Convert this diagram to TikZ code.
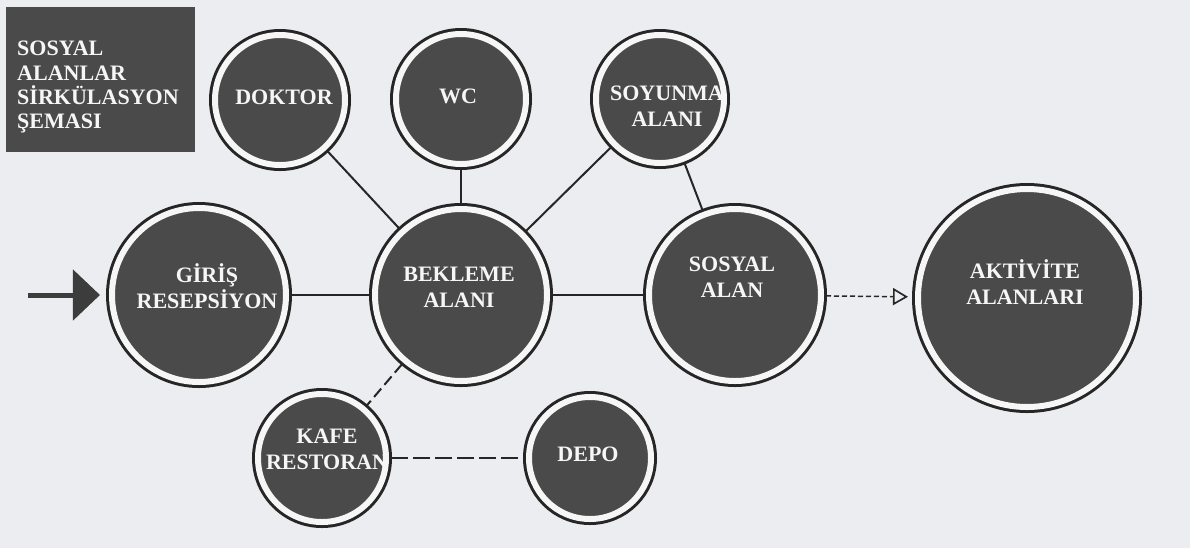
\documentclass[tikz,border=0pt]{standalone}
\usepackage{fontspec}
\setmainfont{Liberation Serif}
\usetikzlibrary{arrows.meta}
\definecolor{kagit}{HTML}{ECEDF0}
\definecolor{koyu}{HTML}{4A4A4A}
\definecolor{halka}{HTML}{262626}
\definecolor{bosluk}{HTML}{F6F6F6}
\begin{document}
\begin{tikzpicture}[x=0.03cm, y=-0.03cm,
  oda/.style={circle, fill=koyu, draw=bosluk, line width=0.18cm, outer sep=0.15cm,
    preaction={draw=halka, line width=0.36cm}},
  yazi/.style={text=bosluk, font=\bfseries\fontsize{18.8}{22.2}\selectfont, align=center, inner sep=0pt},
  bag/.style={draw=halka, line width=0.06cm},
  kesik/.style={bag, dash pattern=on 0.33cm off 0.15cm}
]
\useasboundingbox (0,0) rectangle (1190,548);
\fill[kagit] (0,0) rectangle (1190,548);

% baslik
\fill[koyu] (6,7) rectangle (195,152);
\node[yazi, align=left, anchor=north west, font=\bfseries\fontsize{18.8}{20.7}\selectfont] (baslik) at (17,41) {SOSYAL\\ALANLAR\\SİRKÜLASYON\\ŞEMASI};

\node[oda, minimum size=3.9cm] (doktor) at (280,100) {};
\node[oda, minimum size=3.9cm] (wc) at (461,99) {};
\node[oda, minimum size=3.84cm] (soyunma) at (660,99) {};
\node[oda, minimum size=5.22cm] (giris) at (199,295) {};
\node[oda, minimum size=5.16cm] (bekleme) at (461,295) {};
\node[oda, minimum size=5.16cm] (sosyal) at (735,295) {};
\node[oda, minimum size=6.54cm] (aktivite) at (1027,298) {};
\node[oda, minimum size=3.84cm] (kafe) at (322,458) {};
\node[oda, minimum size=3.66cm] (depo) at (590,458) {};
\coordinate (giris-in) at (28,295);

\draw[bag] (giris) -- (bekleme);
\draw[bag] (bekleme) -- (sosyal);
\draw[bag] (bekleme) -- (doktor);
\draw[bag] (bekleme) -- (wc);
\draw[bag] (bekleme) -- (soyunma);
\draw[bag] (soyunma) -- (sosyal);
\draw[kesik] (bekleme) -- (kafe);
\draw[bag, dash pattern=on 0.51cm off 0.15cm] (kafe) -- (depo);
\draw[bag, line width=0.045cm, dash pattern=on 0.15cm off 0.09cm, shorten >=0.15cm,
  -{Triangle[open, length=0.45cm, width=0.51cm, line width=0.05cm]}] (sosyal) -- (aktivite);
\draw[draw=halka!90, line width=0.15cm, shorten >=0.21cm,
  -{Triangle[length=0.81cm, width=1.5cm]}] (giris-in) -- (giris);

\node[yazi] (doktor-y) at ([shift={(4,-3)}]doktor) {DOKTOR};
\node[yazi] (wc-y) at ([shift={(-3,-3)}]wc) {WC};
\node[yazi] (soyunma-y) at ([shift={(7,7)}]soyunma) {SOYUNMA\\ALANI};
\node[yazi] (giris-y) at ([shift={(8,-9)}]giris) {GİRİŞ\\RESEPSİYON};
\node[yazi] (bekleme-y) at ([shift={(-2,-8)}]bekleme) {BEKLEME\\ALANI};
\node[yazi] (sosyal-y) at ([shift={(-3,-18)}]sosyal) {SOSYAL\\ALAN};
\node[yazi] (aktivite-y) at ([shift={(-2,-16)}]aktivite) {AKTİVİTE\\ALANLARI};
\node[yazi] (kafe-y) at ([shift={(5,-9)}]kafe) {KAFE\\RESTORAN};
\node[yazi] (depo-y) at ([shift={(-2,-4)}]depo) {DEPO};
\end{tikzpicture}
\end{document}
